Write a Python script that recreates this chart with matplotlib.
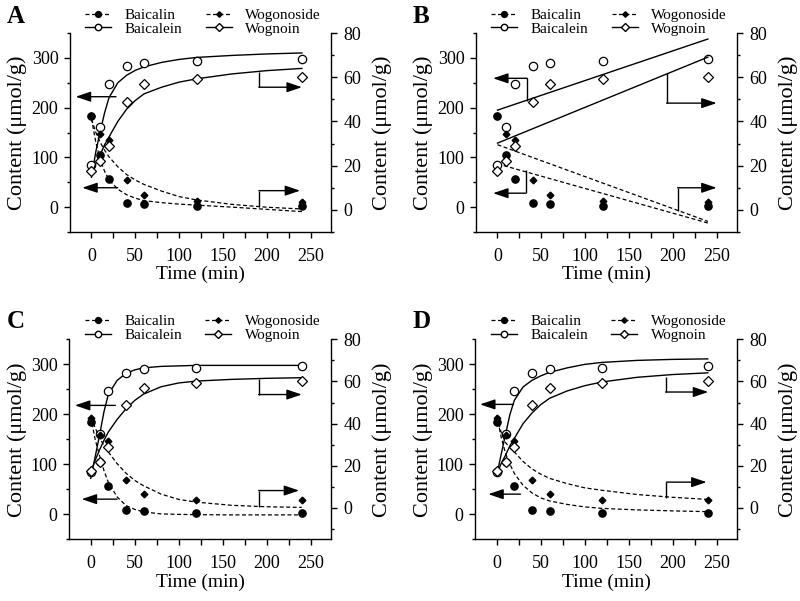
import matplotlib
matplotlib.use("Agg")
import matplotlib.pyplot as plt
from matplotlib.ticker import MultipleLocator
from matplotlib.lines import Line2D

plt.rcParams['font.family'] = ['Liberation Serif', 'DejaVu Serif']

# ----------------------------
# measured data (same samples in every panel)
# ----------------------------
time_pts = [0, 10, 20, 40, 60, 120, 240]
baicalin = [184, 104, 56, 8, 6, 3, 3]           # left axis
baicalein = [84, 161, 247, 283, 290, 293, 297]  # left axis
wogonoside = [42.5, 34.4, 31.7, 13.3, 6.6, 3.9, 3.6]  # right axis
wognoin = [17.5, 21.9, 29.0, 48.7, 57.0, 59.4, 60.0]  # right axis

# ----------------------------
# fitted curves
# ----------------------------
t_fit = [0, 5, 10, 15, 20, 30, 40, 50, 60, 80, 100, 120, 160, 200, 240]

fit_A = {
    'baicalin': [178, 130, 95, 72, 55, 36, 25, 18, 13, 9, 6, 4, 0, -4.5, -9],
    'baicalein': [60, 112, 152, 190, 220, 250, 265, 275, 282, 291, 297, 301, 305, 308, 310],
    'wogonoside': [41, 35, 30.5, 27, 24, 19.5, 16, 13.5, 11.5, 8.5, 6, 4.5, 2.5, 1.2, 0.4],
    'wognoin': [16, 21, 25, 29.5, 33, 40, 45.5, 49.5, 52.5, 55.5, 57.8, 59.3, 61.5, 63, 64],
}
fit_C = {
    'baicalin': [195, 150, 118, 88, 64, 35, 18, 10, 5, 1, 0, -0.5, -1, -1, -1],
    'baicalein': [72, 115, 158, 205, 240, 268, 282, 289, 293, 296, 297, 298, 298, 298, 298],
    'wogonoside': [43, 38, 33.5, 29.5, 26.5, 21, 16.5, 13, 10.5, 6.5, 4, 2.7, 1.2, 0.5, 0.2],
    'wognoin': [17, 22.5, 27.5, 32, 36, 42, 47, 51, 54, 57.5, 59.3, 60.2, 61, 61.5, 61.8],
}
fit_D = {
    'baicalin': [198, 155, 122, 100, 82, 58, 43, 33, 27, 20, 15, 12, 9, 7, 5.5],
    'baicalein': [78, 120, 160, 200, 228, 255, 268, 277, 284, 293, 300, 304, 308, 310, 311],
    'wogonoside': [43, 36, 31, 28.5, 26.5, 22, 18.5, 16, 14, 11.5, 9.5, 8.3, 6.3, 5, 4],
    'wognoin': [16, 21, 25, 29.5, 33, 40, 45, 49, 52, 55.5, 58, 59.8, 62, 63.3, 64.1],
}
# panel B: straight-line fits
t_lin = [0, 240]
fit_B = {
    'baicalin': [87, -32],
    'baicalein': [195, 338],
    'wogonoside': [29.5, -5.2],
    'wognoin': [30.2, 69.1],
}

# axis-indicator arrows (polyline, last segment gets the head); 'L' left axis, 'R' right axis
arrows = {
    'A': [('L', [(28, 222), (-18, 222)]),
          ('L', [(30, 39), (-10.5, 39)]),
          ('R', [(191, 62.3), (191, 55.5), (240, 55.5)]),
          ('R', [(191, 1.2), (191, 8.7), (238, 8.7)])],
    'B': [('L', [(34, 214), (34, 259), (-5, 259)]),
          ('L', [(32, 74), (32, 28), (-5, 28)]),
          ('R', [(193, 62), (193, 48.3), (250, 48.3)]),
          ('R', [(205.5, -0.3), (205.5, 10), (250, 10)])],
    'C': [('L', [(28, 218), (-18, 218)]),
          ('L', [(30, 30.5), (-10.3, 30.5)]),
          ('R', [(191, 61.4), (191, 53.8), (240, 53.8)]),
          ('R', [(191, 0.3), (191, 8.2), (237, 8.2)])],
    'D': [('L', [(19, 220), (-19, 220)]),
          ('L', [(27, 40.5), (-9.6, 40.5)]),
          ('R', [(192, 62.2), (192, 55), (240.5, 55)]),
          ('R', [(193, 4.6), (193, 12.2), (238.6, 12.2)])],
}

panels = [
    ('A', [0.0875, 0.614, 0.326, 0.331], t_fit, fit_A, -10),
    ('B', [0.595, 0.614, 0.326, 0.331], t_lin, fit_B, -10),
    ('C', [0.0865, 0.1025, 0.327, 0.3328], t_fit, fit_C, -15),
    ('D', [0.594, 0.1025, 0.327, 0.3328], t_fit, fit_D, -15),
]

DASH = (0, (3.2, 2.0))
MS = 5.2


def draw_panel(fig, letter, rect, tcurve, fits, right_bottom):
    ax = fig.add_axes(rect)
    ax2 = ax.twinx()

    # left axis: baicalin / baicalein
    ax.plot(tcurve, fits['baicalin'], color='black', lw=0.9, ls=DASH)
    ax.plot(tcurve, fits['baicalein'], color='black', lw=1.0)
    ax.plot(time_pts, baicalin, 'o', color='black', ms=MS, ls='none')
    ax.plot(time_pts, baicalein, 'o', mfc='white', mec='black', mew=0.9, ms=MS + 0.8, ls='none')

    # right axis: wogonoside / wognoin
    ax2.plot(tcurve, fits['wogonoside'], color='black', lw=0.9, ls=DASH)
    ax2.plot(tcurve, fits['wognoin'], color='black', lw=1.0)
    ax2.plot(time_pts, wogonoside, 'D', color='black', ms=3.4, ls='none')
    ax2.plot(time_pts, wognoin, 'D', mfc='white', mec='black', mew=0.9, ms=4.6, ls='none')

    # arrows pointing to the axis each curve belongs to
    for side, pts in arrows[letter]:
        target = ax if side == 'L' else ax2
        xs = [p[0] for p in pts[:-1]]
        ys = [p[1] for p in pts[:-1]]
        if len(pts) > 2:
            target.plot(xs, ys, color='black', lw=1.0, solid_capstyle='butt')
        target.annotate('', xy=pts[-1], xytext=pts[-2],
                        arrowprops=dict(arrowstyle='-|>,head_length=0.65,head_width=0.22',
                                        mutation_scale=14, color='black', lw=1.0,
                                        shrinkA=0, shrinkB=0))

    ax.set_xlim(-24.5, 273)
    ax.set_ylim(-50, 350)
    ax2.set_ylim(right_bottom, 80)

    ax.xaxis.set_major_locator(MultipleLocator(50))
    ax.xaxis.set_minor_locator(MultipleLocator(25))
    ax.yaxis.set_minor_locator(MultipleLocator(50))
    ax2.yaxis.set_minor_locator(MultipleLocator(10))
    ax.set_yticks([0, 100, 200, 300])
    ax2.set_yticks([0, 20, 40, 60, 80])

    for a in (ax, ax2):
        a.spines['top'].set_visible(False)
        for s in a.spines.values():
            s.set_linewidth(1.0)
    ax.spines['right'].set_visible(False)
    ax2.spines['left'].set_visible(False)
    ax2.spines['bottom'].set_visible(False)

    ax.tick_params(axis='x', which='both', direction='out', length=4.3, width=1.0,
                   labelsize=13, pad=7)
    ax.tick_params(axis='y', which='major', direction='out', length=4.3, width=1.0,
                   labelsize=13, pad=4)
    ax.tick_params(axis='y', which='minor', direction='out', length=2.4, width=1.0)
    ax2.tick_params(axis='y', which='major', direction='out', length=4.3, width=1.0,
                    labelsize=13, pad=5)
    ax2.tick_params(axis='y', which='minor', direction='out', length=2.4, width=1.0)

    ax.set_xlabel('Time (min)', fontsize=14, labelpad=1)
    ax.set_ylabel('Content (\u03bcmol/g)', fontsize=16, labelpad=3)
    ax2.set_ylabel('Content (\u03bcmol/g)', fontsize=16, labelpad=8, rotation=90)

    handles = [
        Line2D([], [], color='black', lw=0.9, ls=DASH, marker='o', ms=4.2),
        Line2D([], [], color='black', lw=1.0, marker='o', mfc='white', ms=4.6),
        Line2D([], [], color='black', lw=0.9, ls=DASH, marker='D', ms=2.8),
        Line2D([], [], color='black', lw=1.0, marker='D', mfc='white', ms=3.6),
    ]
    labels = ['Baicalin', 'Baicalein', 'Wogonoside', 'Wognoin']
    ax2.legend(handles, labels, loc='center', bbox_to_anchor=(0.51, 1.055), ncol=2,
               frameon=False, fontsize=11, handlelength=1.7, handletextpad=0.9,
               columnspacing=1.5, labelspacing=0.0, borderpad=0)

    ax.set_zorder(1)
    ax2.set_zorder(2)
    ax.patch.set_visible(False)
    return ax, ax2


fig = plt.figure(figsize=(8.0, 6.01), dpi=100)
fig.patch.set_facecolor('white')

for letter, rect, tcurve, fits, rb in panels:
    draw_panel(fig, letter, rect, tcurve, fits, rb)

letter_pos = {'A': (0.009, 0.972), 'B': (0.516, 0.972), 'C': (0.009, 0.465), 'D': (0.516, 0.465)}
for letter, (x, y) in letter_pos.items():
    fig.text(x, y, letter, fontsize=18, fontweight='bold', ha='left', va='center')

fig.savefig('out.png', dpi=100, facecolor='white')
